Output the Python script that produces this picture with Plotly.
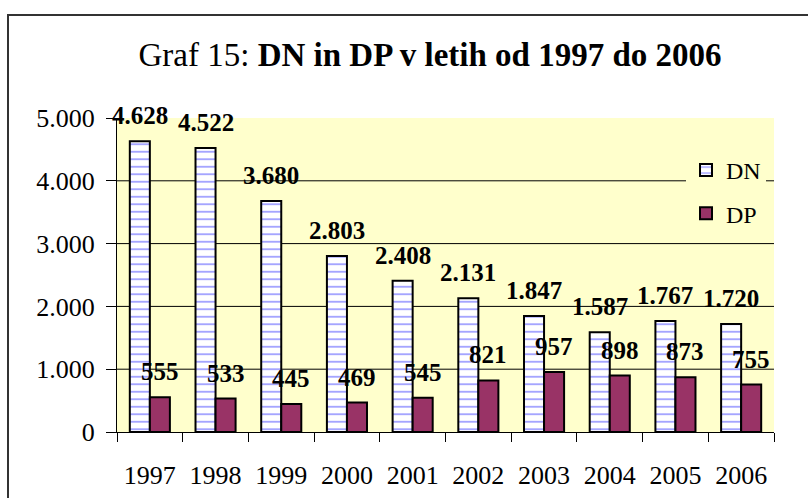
import plotly.graph_objects as go

years = ["1997", "1998", "1999", "2000", "2001", "2002", "2003", "2004", "2005", "2006"]
dn_values = [4628, 4522, 3680, 2803, 2408, 2131, 1847, 1587, 1767, 1720]
dp_values = [555, 533, 445, 469, 545, 821, 957, 898, 873, 755]
y_ticks = [0, 1000, 2000, 3000, 4000, 5000]
y_tick_labels = ["0", "1.000", "2.000", "3.000", "4.000", "5.000"]

FONT = "Liberation Serif"
W, H = 808, 498
L, R, T, B = 117, 34, 118, 66
pw, ph = W - L - R, H - T - B

def px_to_paper_x(px):
    return (px - L) / pw

def px_to_paper_y(py):
    return (H - B - py) / ph

fig = go.Figure()
fig.add_trace(go.Bar(
    name="DN", x=years, y=dn_values,
    marker=dict(color="white", line=dict(color="black", width=2),
                pattern=dict(shape="-", fgcolor="#9999FF", bgcolor="white",
                             size=7.5, solidity=0.22, fillmode="replace")),
    legendgroup="dn",
))
fig.add_trace(go.Bar(
    name="DP", x=years, y=dp_values,
    marker=dict(color="#993366", line=dict(color="black", width=2)),
    legendgroup="dp",
))

LBL = 25
annotations = []
for i, v in enumerate(dn_values):
    annotations.append(dict(x=i, y=v, xref="x", yref="y", text=f"{v:,}".replace(",", "."),
                            showarrow=False, xshift=-10, yshift=10, yanchor="bottom",
                            font=dict(family=FONT, size=LBL, color="black", weight="bold")))
for i, v in enumerate(dp_values):
    annotations.append(dict(x=i, y=v, xref="x", yref="y", text=f"{v}",
                            showarrow=False, xshift=10, yshift=10, yanchor="bottom",
                            font=dict(family=FONT, size=LBL, color="black", weight="bold")))

shapes = []
for t in y_ticks[1:-1]:
    shapes.append(dict(type="line", xref="paper", yref="y", x0=0, x1=1, y0=t, y1=t,
                       line=dict(color="black", width=1), layer="below"))
# outer chart border
shapes.append(dict(type="rect", xref="paper", yref="paper",
                   x0=px_to_paper_x(8), x1=px_to_paper_x(812),
                   y0=px_to_paper_y(503), y1=px_to_paper_y(15),
                   line=dict(color="#333333", width=2), layer="above"))

fig.update_layout(
    width=W, height=H,
    margin=dict(l=L, r=R, t=T, b=B, pad=0, autoexpand=False),
    paper_bgcolor="white",
    plot_bgcolor="#FFFFCC",
    font=dict(family=FONT, color="black"),
    barmode="group",
    bargap=0.39,
    bargroupgap=0,
    title=dict(text="Graf 15: <b>DN in DP v letih od 1997 do 2006</b>",
               font=dict(family=FONT, size=33, color="black"),
               x=430 / W, xref="container", xanchor="center",
               y=1 - 54 / H, yref="container", yanchor="middle", automargin=False),
    xaxis=dict(type="category", categoryorder="array", categoryarray=years,
               range=[-0.5, len(years) - 0.5],
               showline=True, linecolor="black", linewidth=1,
               ticks="outside", tickson="boundaries", ticklen=9, tickcolor="black",
               tickfont=dict(family=FONT, size=26, color="black"), tickangle=0,
               ticklabelstandoff=20, showgrid=False, automargin=False),
    yaxis=dict(range=[0, 5000], tickvals=y_ticks, ticktext=y_tick_labels,
               showline=True, linecolor="black", linewidth=1,
               ticks="outside", ticklen=10, tickcolor="black",
               tickfont=dict(family=FONT, size=26, color="black"),
               ticklabelstandoff=6,
               showgrid=False, zeroline=False, automargin=False),
    legend=dict(x=px_to_paper_x(686), y=px_to_paper_y(148), xanchor="left", yanchor="top",
                bgcolor="#FFFFCC", font=dict(family=FONT, size=24, color="black"),
                tracegroupgap=9, traceorder="grouped"),
    annotations=annotations,
    shapes=shapes,
)

fig.write_html("out.html", config={"displayModeBar": False},
               post_script="document.body.style.margin='0';")
